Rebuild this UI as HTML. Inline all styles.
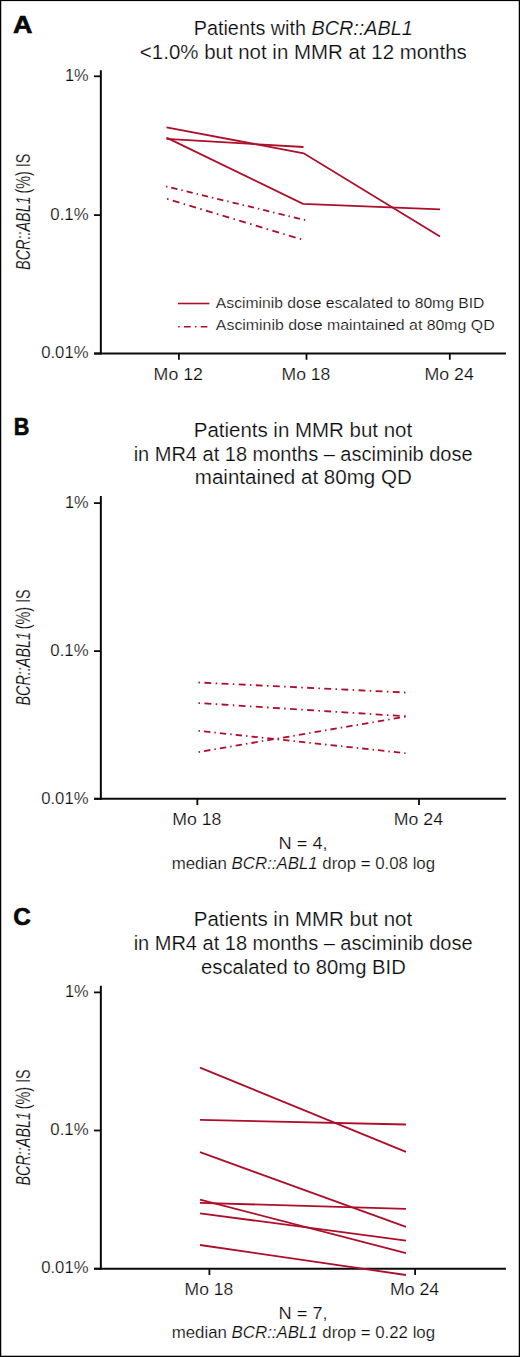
<!DOCTYPE html>
<html><head><meta charset="utf-8"><style>
html,body{margin:0;padding:0;background:#fff;}
body{width:520px;height:1357px;overflow:hidden;}
svg{display:block;font-family:"Liberation Sans", sans-serif;}
text{stroke:#fff;stroke-width:0.2px;}
</style></head><body>
<svg width="520" height="1357" viewBox="0 0 520 1357" fill="#0a0a0a">
<line x1="100.85" y1="70.2" x2="100.85" y2="354.55" stroke="#0a0a0a" stroke-width="2.0"/>
<line x1="94.0" y1="353.55" x2="506" y2="353.55" stroke="#0a0a0a" stroke-width="2.0"/>
<line x1="94.0" y1="76.3" x2="100.85" y2="76.3" stroke="#0a0a0a" stroke-width="1.8"/>
<line x1="94.0" y1="215.1" x2="100.85" y2="215.1" stroke="#0a0a0a" stroke-width="1.8"/>
<line x1="94.0" y1="353.55" x2="100.85" y2="353.55" stroke="#0a0a0a" stroke-width="1.8"/>
<line x1="178.9" y1="353.55" x2="178.9" y2="359.75" stroke="#0a0a0a" stroke-width="1.8"/>
<line x1="306.5" y1="353.55" x2="306.5" y2="359.75" stroke="#0a0a0a" stroke-width="1.8"/>
<line x1="449.8" y1="353.55" x2="449.8" y2="359.75" stroke="#0a0a0a" stroke-width="1.8"/>
<text transform="translate(30.1,269.90000000000003) rotate(-90)" font-size="20" font-style="italic" textLength="73.6" lengthAdjust="spacingAndGlyphs">BCR::ABL1</text>
<text transform="translate(30.1,193.5) rotate(-90)" font-size="20" textLength="39.9" lengthAdjust="spacingAndGlyphs">(%) IS</text>
<line x1="100.85" y1="496.0" x2="100.85" y2="799.85" stroke="#0a0a0a" stroke-width="2.0"/>
<line x1="94.0" y1="798.85" x2="506" y2="798.85" stroke="#0a0a0a" stroke-width="2.0"/>
<line x1="94.0" y1="503.1" x2="100.85" y2="503.1" stroke="#0a0a0a" stroke-width="1.8"/>
<line x1="94.0" y1="651.1" x2="100.85" y2="651.1" stroke="#0a0a0a" stroke-width="1.8"/>
<line x1="94.0" y1="798.85" x2="100.85" y2="798.85" stroke="#0a0a0a" stroke-width="1.8"/>
<line x1="197.35" y1="798.85" x2="197.35" y2="805.0500000000001" stroke="#0a0a0a" stroke-width="1.8"/>
<line x1="419.0" y1="798.85" x2="419.0" y2="805.0500000000001" stroke="#0a0a0a" stroke-width="1.8"/>
<text transform="translate(30.1,705.6) rotate(-90)" font-size="20" font-style="italic" textLength="73.6" lengthAdjust="spacingAndGlyphs">BCR::ABL1</text>
<text transform="translate(30.1,629.2) rotate(-90)" font-size="20" textLength="39.9" lengthAdjust="spacingAndGlyphs">(%) IS</text>
<line x1="100.85" y1="985.8" x2="100.85" y2="1269.75" stroke="#0a0a0a" stroke-width="2.0"/>
<line x1="94.0" y1="1268.75" x2="506" y2="1268.75" stroke="#0a0a0a" stroke-width="2.0"/>
<line x1="94.0" y1="992.4" x2="100.85" y2="992.4" stroke="#0a0a0a" stroke-width="1.8"/>
<line x1="94.0" y1="1130.5" x2="100.85" y2="1130.5" stroke="#0a0a0a" stroke-width="1.8"/>
<line x1="94.0" y1="1268.75" x2="100.85" y2="1268.75" stroke="#0a0a0a" stroke-width="1.8"/>
<line x1="209.4" y1="1268.75" x2="209.4" y2="1274.95" stroke="#0a0a0a" stroke-width="1.8"/>
<line x1="415.1" y1="1268.75" x2="415.1" y2="1274.95" stroke="#0a0a0a" stroke-width="1.8"/>
<text transform="translate(30.1,1185.6) rotate(-90)" font-size="20" font-style="italic" textLength="73.6" lengthAdjust="spacingAndGlyphs">BCR::ABL1</text>
<text transform="translate(30.1,1109.2) rotate(-90)" font-size="20" textLength="39.9" lengthAdjust="spacingAndGlyphs">(%) IS</text>
<text x="13.04" y="33.2" font-size="24" textLength="19.41" lengthAdjust="spacingAndGlyphs" font-weight="bold" style="stroke:#000;stroke-width:0.6px">A</text>
<text x="193.76" y="34.6" font-size="20" textLength="218.99" lengthAdjust="spacingAndGlyphs">Patients with <tspan font-style="italic">BCR::ABL1</tspan></text>
<text x="139.88" y="58.8" font-size="20" textLength="326.89" lengthAdjust="spacingAndGlyphs">&lt;1.0% but not in MMR at 12 months</text>
<text x="215.89" y="307.6" font-size="14.8" textLength="268.53" lengthAdjust="spacingAndGlyphs">Asciminib dose escalated to 80mg BID</text>
<text x="215.89" y="330.4" font-size="14.8" textLength="278.77" lengthAdjust="spacingAndGlyphs">Asciminib dose maintained at 80mg QD</text>
<text x="13.82" y="434.7" font-size="24" textLength="15.60" lengthAdjust="spacingAndGlyphs" font-weight="bold" style="stroke:#000;stroke-width:0.6px">B</text>
<text x="193.76" y="436.6" font-size="20" textLength="218.35" lengthAdjust="spacingAndGlyphs">Patients in MMR but not</text>
<text x="133.67" y="460.7" font-size="20" textLength="338.95" lengthAdjust="spacingAndGlyphs">in MR4 at 18 months – asciminib dose</text>
<text x="194.81" y="484.1" font-size="20" textLength="216.97" lengthAdjust="spacingAndGlyphs">maintained at 80mg QD</text>
<text x="278.47" y="848.8" font-size="16.5" textLength="49.11" lengthAdjust="spacingAndGlyphs">N = 4,</text>
<text x="171.72" y="868.6" font-size="16.5" textLength="263.40" lengthAdjust="spacingAndGlyphs">median <tspan font-style="italic">BCR::ABL1</tspan> drop = 0.08 log</text>
<text x="13.26" y="924.9" font-size="24" textLength="17.53" lengthAdjust="spacingAndGlyphs" font-weight="bold" style="stroke:#000;stroke-width:0.6px">C</text>
<text x="193.76" y="926.3" font-size="20" textLength="218.35" lengthAdjust="spacingAndGlyphs">Patients in MMR but not</text>
<text x="133.67" y="950.4" font-size="20" textLength="338.95" lengthAdjust="spacingAndGlyphs">in MR4 at 18 months – asciminib dose</text>
<text x="201.07" y="973.8" font-size="20" textLength="204.70" lengthAdjust="spacingAndGlyphs">escalated to 80mg BID</text>
<text x="278.47" y="1319.0" font-size="16.5" textLength="49.11" lengthAdjust="spacingAndGlyphs">N = 7,</text>
<text x="171.72" y="1337.8" font-size="16.5" textLength="263.40" lengthAdjust="spacingAndGlyphs">median <tspan font-style="italic">BCR::ABL1</tspan> drop = 0.22 log</text>
<text x="153.64" y="379.65000000000003" font-size="16.7" textLength="49.23" lengthAdjust="spacingAndGlyphs">Mo 12</text>
<text x="281.59" y="379.65000000000003" font-size="16.7" textLength="48.77" lengthAdjust="spacingAndGlyphs">Mo 18</text>
<text x="424.52" y="379.65000000000003" font-size="16.7" textLength="49.27" lengthAdjust="spacingAndGlyphs">Mo 24</text>
<text x="64.89" y="81.0" font-size="16.5" textLength="23.65" lengthAdjust="spacingAndGlyphs">1%</text>
<text x="50.38" y="219.8" font-size="16.5" textLength="38.23" lengthAdjust="spacingAndGlyphs">0.1%</text>
<text x="41.20" y="358.25" font-size="16.5" textLength="47.32" lengthAdjust="spacingAndGlyphs">0.01%</text>
<text x="172.16" y="824.95" font-size="16.7" textLength="49.19" lengthAdjust="spacingAndGlyphs">Mo 18</text>
<text x="393.86" y="824.95" font-size="16.7" textLength="49.21" lengthAdjust="spacingAndGlyphs">Mo 24</text>
<text x="64.89" y="507.8" font-size="16.5" textLength="23.65" lengthAdjust="spacingAndGlyphs">1%</text>
<text x="50.38" y="655.8" font-size="16.5" textLength="38.23" lengthAdjust="spacingAndGlyphs">0.1%</text>
<text x="41.20" y="803.55" font-size="16.5" textLength="47.32" lengthAdjust="spacingAndGlyphs">0.01%</text>
<text x="184.59" y="1294.85" font-size="16.7" textLength="48.69" lengthAdjust="spacingAndGlyphs">Mo 18</text>
<text x="389.95" y="1294.85" font-size="16.7" textLength="49.23" lengthAdjust="spacingAndGlyphs">Mo 24</text>
<text x="64.89" y="997.1" font-size="16.5" textLength="23.65" lengthAdjust="spacingAndGlyphs">1%</text>
<text x="50.38" y="1135.2" font-size="16.5" textLength="38.23" lengthAdjust="spacingAndGlyphs">0.1%</text>
<text x="41.20" y="1273.45" font-size="16.5" textLength="47.32" lengthAdjust="spacingAndGlyphs">0.01%</text>
<polyline points="166.5,127.3 303.7,153.3 440,236.5" fill="none" stroke="#AD0E29" stroke-width="1.8" stroke-linejoin="miter"/>
<polyline points="166.5,138.8 303.5,147" fill="none" stroke="#AD0E29" stroke-width="1.8" stroke-linejoin="miter"/>
<polyline points="166.5,137.6 303,203.8 440,209.4" fill="none" stroke="#AD0E29" stroke-width="1.8" stroke-linejoin="miter"/>
<line x1="165.96" y1="186.43" x2="305.19" y2="220.07" stroke="#AD0E29" stroke-width="1.8" stroke-dasharray="1.42 4.01 6.32 4.01"/>
<line x1="167.06" y1="198.88" x2="301.24" y2="239.22" stroke="#AD0E29" stroke-width="1.8" stroke-dasharray="1.56 4.41 6.95 4.41"/>
<line x1="178" y1="303.5" x2="209.4" y2="303.5" stroke="#AD0E29" stroke-width="1.6"/>
<line x1="178.2" y1="326.7" x2="208" y2="326.7" stroke="#AD0E29" stroke-width="1.6" stroke-dasharray="1.5 4.3 6.7 4.2"/>
<line x1="198.53" y1="682.46" x2="405.57" y2="692.54" stroke="#AD0E29" stroke-width="1.8" stroke-dasharray="1.54 4.36 6.88 4.36"/>
<line x1="198.53" y1="703.05" x2="405.57" y2="716.25" stroke="#AD0E29" stroke-width="1.8" stroke-dasharray="1.54 4.37 6.88 4.37"/>
<line x1="198.59" y1="730.82" x2="405.51" y2="753.18" stroke="#AD0E29" stroke-width="1.8" stroke-dasharray="1.43 4.05 6.38 4.05"/>
<line x1="198.59" y1="752.02" x2="405.51" y2="716.68" stroke="#AD0E29" stroke-width="1.8" stroke-dasharray="1.44 4.08 6.43 4.08"/>
<polyline points="200,1067.7 406,1151.9" fill="none" stroke="#AD0E29" stroke-width="1.8" stroke-linejoin="miter"/>
<polyline points="200,1119.8 406,1124.5" fill="none" stroke="#AD0E29" stroke-width="1.8" stroke-linejoin="miter"/>
<polyline points="200,1152.2 406,1226.8" fill="none" stroke="#AD0E29" stroke-width="1.8" stroke-linejoin="miter"/>
<polyline points="200,1199.6 406,1253.1" fill="none" stroke="#AD0E29" stroke-width="1.8" stroke-linejoin="miter"/>
<polyline points="200,1202.9 406,1208.8" fill="none" stroke="#AD0E29" stroke-width="1.8" stroke-linejoin="miter"/>
<polyline points="200,1213.3 406,1240.6" fill="none" stroke="#AD0E29" stroke-width="1.8" stroke-linejoin="miter"/>
<polyline points="200,1245 406,1275" fill="none" stroke="#AD0E29" stroke-width="1.8" stroke-linejoin="miter"/>
<rect x="0" y="0" width="520" height="1.1" fill="#000"/>
<rect x="0" y="0" width="1.25" height="1357" fill="#000"/>
<rect x="518.75" y="0" width="1.25" height="1357" fill="#000"/>
<rect x="0" y="1355.7" width="520" height="1.3" fill="#000"/>
</svg>
</body></html>
